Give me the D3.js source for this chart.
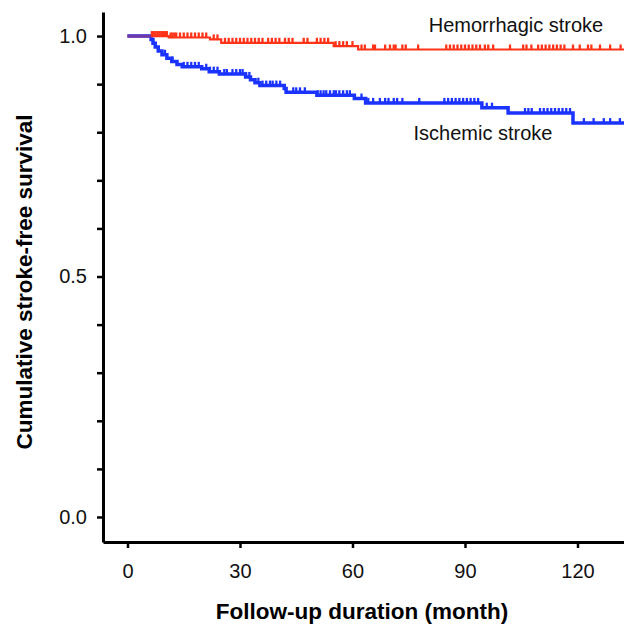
<!DOCTYPE html>
<html>
<head>
<meta charset="utf-8">
<script src="https://cdn.jsdelivr.net/npm/d3@7"></script>
<style>
  body { margin: 0; background: #fff; }
  svg { display: block; font-family: "Liberation Sans", Arial, Helvetica, sans-serif; }
</style>
</head>
<body>
<svg id="chart" width="624" height="625"></svg>
<script>
// Kaplan-Meier steps (months, survival)
const hemTimes = [0, 11, 22, 25, 55, 61.5];
const hemSurv  = [1, 0.997, 0.993, 0.986, 0.979, 0.972];
const hemCensor = [6.5, 7, 7.5, 8, 8.5, 9, 9.5, 10, 10.5, 11.5, 12, 12.5, 13, 14, 15, 16,
  17, 18, 19, 20, 21, 23, 24, 26, 27, 28, 29, 30, 31, 32, 33, 34, 35, 36,
  37.5, 38.5, 39.5, 40.5, 42, 43, 44, 47, 48, 50.5, 51.5, 52.5, 53.5, 55.5, 56.5,
  57.5, 58.5, 60, 62.4, 63.3, 65.5, 66, 68.7, 70, 71, 71.5, 73.3, 74.2, 77.5,
  85, 86, 87, 88, 89, 90, 91, 92, 93, 94, 95.3, 96.2, 97.5, 102, 105.5, 106.4,
  107.7, 109.5, 110.5, 111.5, 112.5, 113.5, 114.5, 115.5, 116.5, 118.8, 120.6,
  122.8, 123.7, 126, 128.7, 131.5];

const ischTimes = [0, 6.3, 6.8, 7.4, 8.2, 9.2, 10.5, 11.8, 13.2, 14.6, 19.8, 21.8, 24.5,
  31.5, 32.8, 34, 35.3, 41.8, 42.3, 50.5, 60.5, 63.5, 94.5, 101.5, 118.8];
const ischSurv  = [1, 0.993, 0.985, 0.977, 0.969, 0.961, 0.954, 0.947, 0.941, 0.936,
  0.932, 0.926, 0.921, 0.915, 0.909, 0.903, 0.897, 0.891, 0.883, 0.877, 0.870,
  0.861, 0.851, 0.840, 0.819];
const ischCensor = [10, 12, 15, 16, 17, 18, 19, 21, 22, 23, 24, 25.8, 26.5, 28, 29, 30,
  30.7, 31.5, 32.5, 34.9, 36, 37, 38, 38.7, 39.7, 40.7, 44.2, 45, 46, 47.3,
  50.7, 51.5, 52.3, 53, 54, 55, 55.6, 56.5, 57.5, 58.5, 59.3, 62.4, 64.2, 65.5,
  67.3, 68.7, 69.6, 71, 71.9, 73.3, 77.8, 84.5, 85.5, 86.5, 87.5, 88.5, 89.5,
  90.5, 91.5, 92.5, 93.5, 95.8, 97.2, 106, 106.9, 107.8, 110, 111, 112, 113,
  114, 115, 116, 117, 118, 121.7, 124.3, 127, 128.7, 131.3];

const xTicks = [0, 30, 60, 90, 120];
const yTicks = [0, 0.1, 0.2, 0.3, 0.4, 0.5, 0.6, 0.7, 0.8, 0.9, 1.0];
const yLabelled = [0, 0.5, 1.0];

const svg = d3.select("#chart");
const plotLeft = 103, plotRight = 624, plotTop = 12, plotBottom = 542;
const tMin = -6.53, tMax = 132.4;

const x = d3.scaleLinear().domain([tMin, tMax]).range([plotLeft, plotRight]);
const y = d3.scaleLinear().domain([-0.052, 1.05]).range([plotBottom, plotTop]);

// axes
const yAxis = d3.axisLeft(y)
  .tickValues(yTicks)
  .tickSize(6)
  .tickSizeOuter(0)
  .tickPadding(10)
  .tickFormat(d => yLabelled.some(v => Math.abs(v - d) < 1e-9) ? d3.format(".1f")(d) : "");

const xAxis = d3.axisBottom(x)
  .tickValues(xTicks)
  .tickSize(6)
  .tickSizeOuter(0)
  .tickPadding(16)
  .tickFormat(d3.format("d"));

const gy = svg.append("g").attr("transform", `translate(${plotLeft},0)`).call(yAxis);
const gx = svg.append("g").attr("transform", `translate(0,${plotBottom})`).call(xAxis);

[gx, gy].forEach(g => {
  g.select(".domain").attr("stroke", "#000").attr("stroke-width", 3);
  g.selectAll(".tick line").attr("stroke", "#000").attr("stroke-width", 2.5);
  g.selectAll(".tick text").attr("fill", "#111").attr("font-size", "20px")
    .attr("font-family", "Liberation Sans, Arial, sans-serif");
});

// survival curves
function toPts(times, surv) {
  const pts = times.map((t, i) => [t, surv[i]]);
  pts.push([tMax, surv[surv.length - 1]]);
  return pts;
}
const line = d3.line()
  .x(d => x(d[0]))
  .y(d => y(d[1]))
  .curve(d3.curveStepAfter);

function survAt(times, surv, t) {
  const i = d3.bisectRight(times, t) - 1;
  return surv[Math.max(0, i)];
}

function drawCurve(times, surv, censor, color, width) {
  const g = svg.append("g");
  g.append("path")
    .attr("d", line(toPts(times, surv)))
    .attr("fill", "none")
    .attr("stroke", color)
    .attr("stroke-width", width);
  g.selectAll("line.censor")
    .data(censor)
    .join("line")
    .attr("class", "censor")
    .attr("x1", d => x(d))
    .attr("x2", d => x(d))
    .attr("y1", d => y(survAt(times, surv, d)))
    .attr("y2", d => y(survAt(times, surv, d)) - 5)
    .attr("stroke", color)
    .attr("stroke-width", 2.3);
}

drawCurve(ischTimes, ischSurv, ischCensor, "#1a33ff", 3.5);
drawCurve(hemTimes, hemSurv, hemCensor, "#ff3318", 2.2);

// shared initial segment (both at 1.0)
const shared = Math.min(hemTimes[1], ischTimes[1]);
svg.append("line")
  .attr("x1", x(0)).attr("x2", x(shared))
  .attr("y1", y(1)).attr("y2", y(1))
  .attr("stroke", "#6e3aa8")
  .attr("stroke-width", 3);

// curve labels
svg.append("text")
  .attr("x", 516).attr("y", 32)
  .attr("text-anchor", "middle")
  .attr("font-size", "20px")
  .attr("fill", "#111")
  .text("Hemorrhagic stroke");

svg.append("text")
  .attr("x", 483).attr("y", 140)
  .attr("text-anchor", "middle")
  .attr("font-size", "20px")
  .attr("fill", "#111")
  .text("Ischemic stroke");

// axis titles
svg.append("text")
  .attr("x", 362).attr("y", 619)
  .attr("text-anchor", "middle")
  .attr("font-size", "22.5px")
  .attr("font-weight", "bold")
  .attr("fill", "#000")
  .text("Follow-up duration (month)");

svg.append("text")
  .attr("transform", "translate(32,282) rotate(-90)")
  .attr("text-anchor", "middle")
  .attr("font-size", "22.5px")
  .attr("font-weight", "bold")
  .attr("fill", "#000")
  .text("Cumulative stroke-free survival");
</script>
</body>
</html>
